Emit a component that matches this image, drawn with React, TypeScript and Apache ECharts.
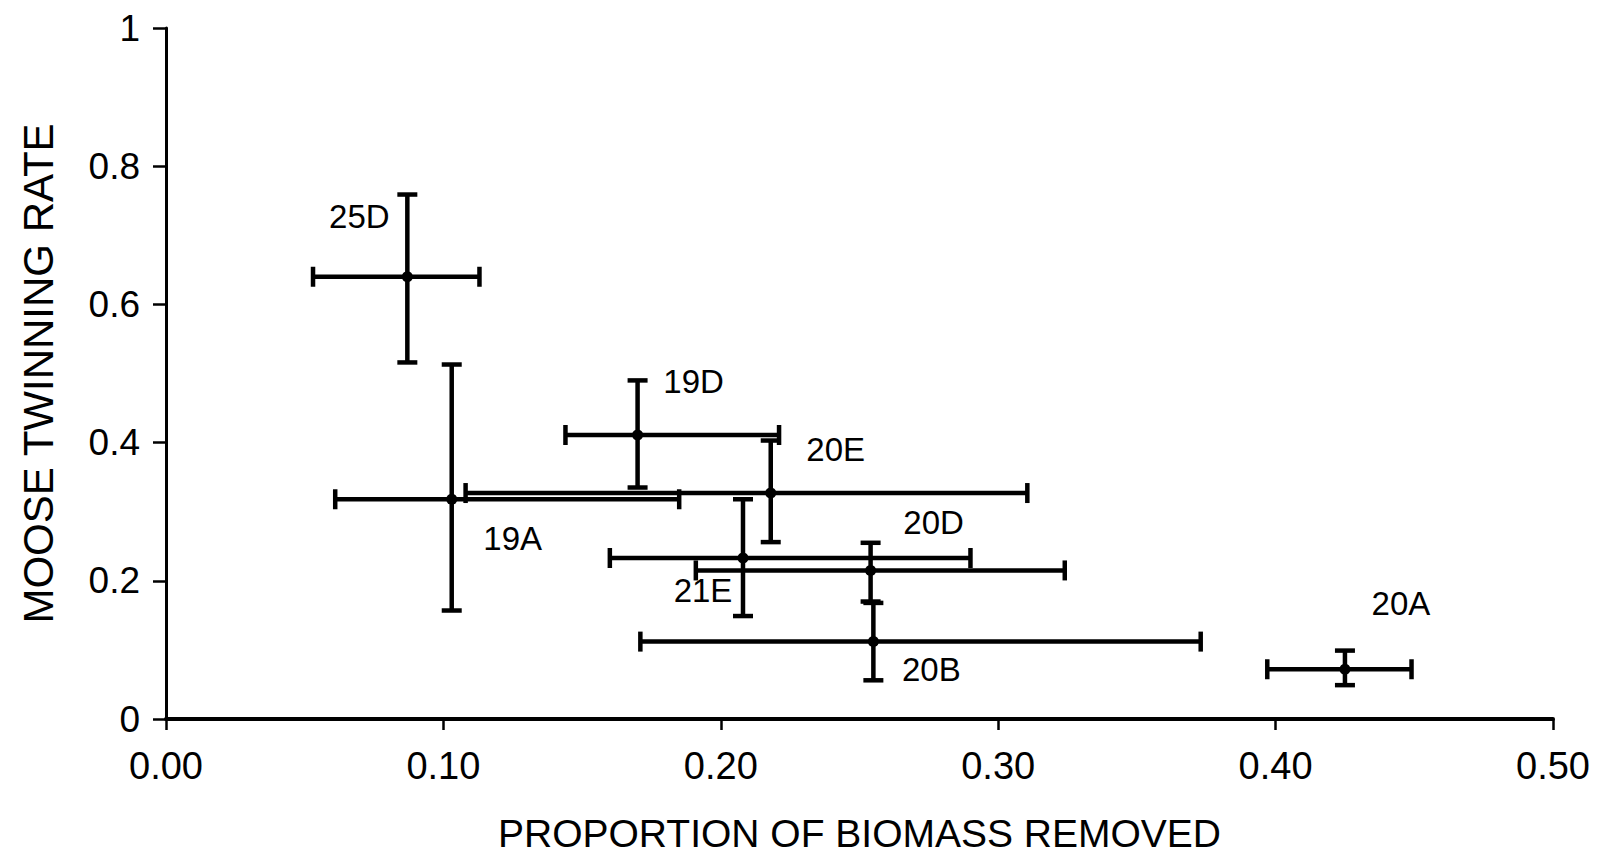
import React, { useEffect, useRef } from "react";
import * as echarts from "echarts";

// Moose twinning rate vs. proportion of browse biomass removed, per management unit
const sites = ["25D", "19A", "19D", "20E", "21E", "20D", "20B", "20A"];
const biomass = [0.087, 0.103, 0.17, 0.218, 0.208, 0.254, 0.255, 0.425];
const biomassLow = [0.053, 0.061, 0.144, 0.108, 0.16, 0.191, 0.171, 0.397];
const biomassHigh = [0.113, 0.185, 0.221, 0.3105, 0.29, 0.324, 0.373, 0.449];
const twinning = [0.64, 0.318, 0.411, 0.327, 0.233, 0.215, 0.112, 0.072];
const twinningLow = [0.516, 0.157, 0.335, 0.256, 0.149, 0.17, 0.056, 0.049];
const twinningHigh = [0.759, 0.513, 0.49, 0.403, 0.318, 0.255, 0.168, 0.099];

const xTicks = [0, 0.1, 0.2, 0.3, 0.4, 0.5];
const yTicks = [0, 0.2, 0.4, 0.6, 0.8, 1];

// label placement (pixels from each point)
const labelOffsets: Record<string, [number, number]> = {
  "25D": [-48, -60],
  "19A": [61, 39],
  "19D": [56, -53],
  "20E": [65, -44],
  "21E": [-40, 33],
  "20D": [63, -48],
  "20B": [58, 28],
  "20A": [56, -66],
};

const FONT = "'Liberation Sans', Arial, Helvetica, sans-serif";

export default function App() {
  const ref = useRef<HTMLDivElement>(null);

  useEffect(() => {
    document.body.style.margin = "0";
    if (!ref.current) return;
    const chart = echarts.init(ref.current, undefined, { renderer: "svg" });

    const barData = sites.map((_, i) => [
      biomass[i],
      twinning[i],
      biomassLow[i],
      biomassHigh[i],
      twinningLow[i],
      twinningHigh[i],
    ]);

    const pointData = sites.map((s, i) => ({
      name: s,
      value: [biomass[i], twinning[i]],
      label: { offset: labelOffsets[s] },
    }));

    const cap = 10;
    const stroke = { stroke: "#000", lineWidth: 4.5 };

    chart.setOption({
      animation: false,
      backgroundColor: "#fff",
      grid: { left: 166, right: 53, top: 28, bottom: 135 },
      xAxis: {
        type: "value",
        min: xTicks[0],
        max: xTicks[xTicks.length - 1],
        interval: 0.1,
        name: "PROPORTION OF BIOMASS REMOVED",
        nameLocation: "middle",
        nameGap: 95,
        nameTextStyle: { color: "#000", fontSize: 39, fontFamily: FONT },
        axisLine: { show: true, onZero: false, lineStyle: { color: "#000", width: 4 } },
        axisTick: { show: true, length: 11, lineStyle: { color: "#000", width: 2.5 } },
        axisLabel: {
          color: "#000",
          fontSize: 38,
          fontFamily: FONT,
          margin: 28,
          formatter: (v: number) => v.toFixed(2),
        },
        splitLine: { show: false },
      },
      yAxis: {
        type: "value",
        min: yTicks[0],
        max: yTicks[yTicks.length - 1],
        interval: 0.2,
        name: "MOOSE TWINNING RATE",
        nameLocation: "middle",
        nameGap: 107,
        nameTextStyle: { color: "#000", fontSize: 42, fontFamily: FONT },
        axisLine: { show: true, onZero: false, lineStyle: { color: "#000", width: 3 } },
        axisTick: { show: true, length: 13, lineStyle: { color: "#000", width: 2.5 } },
        axisLabel: {
          color: "#000",
          fontSize: 37,
          fontFamily: FONT,
          margin: 26,
          formatter: (v: number) => (v === 0 || v === 1 ? String(v) : v.toFixed(1)),
        },
        splitLine: { show: false },
      },
      series: [
        {
          type: "custom",
          data: barData,
          encode: { x: [0, 2, 3], y: [1, 4, 5] },
          z: 2,
          renderItem: (_params: any, api: any) => {
            const x = api.value(0);
            const y = api.value(1);
            const left = api.coord([api.value(2), y]);
            const right = api.coord([api.value(3), y]);
            const bottom = api.coord([x, api.value(4)]);
            const top = api.coord([x, api.value(5)]);
            const line = (x1: number, y1: number, x2: number, y2: number) => ({
              type: "line",
              shape: { x1, y1, x2, y2 },
              style: stroke,
            });
            return {
              type: "group",
              children: [
                line(left[0], left[1], right[0], right[1]),
                line(left[0], left[1] - cap, left[0], left[1] + cap),
                line(right[0], right[1] - cap, right[0], right[1] + cap),
                line(top[0], top[1], bottom[0], bottom[1]),
                line(top[0] - cap, top[1], top[0] + cap, top[1]),
                line(bottom[0] - cap, bottom[1], bottom[0] + cap, bottom[1]),
              ],
            };
          },
        },
        {
          type: "scatter",
          data: pointData,
          symbol: "circle",
          symbolSize: 11,
          z: 3,
          itemStyle: { color: "#000", opacity: 1 },
          label: {
            show: true,
            position: "inside",
            formatter: (p: any) => p.name,
            color: "#000",
            opacity: 1,
            textBorderWidth: 0,
            fontSize: 33,
            fontFamily: FONT,
          },
        },
      ],
    });

    return () => chart.dispose();
  }, []);

  return <div ref={ref} style={{ width: 1606, height: 858 }} />;
}
